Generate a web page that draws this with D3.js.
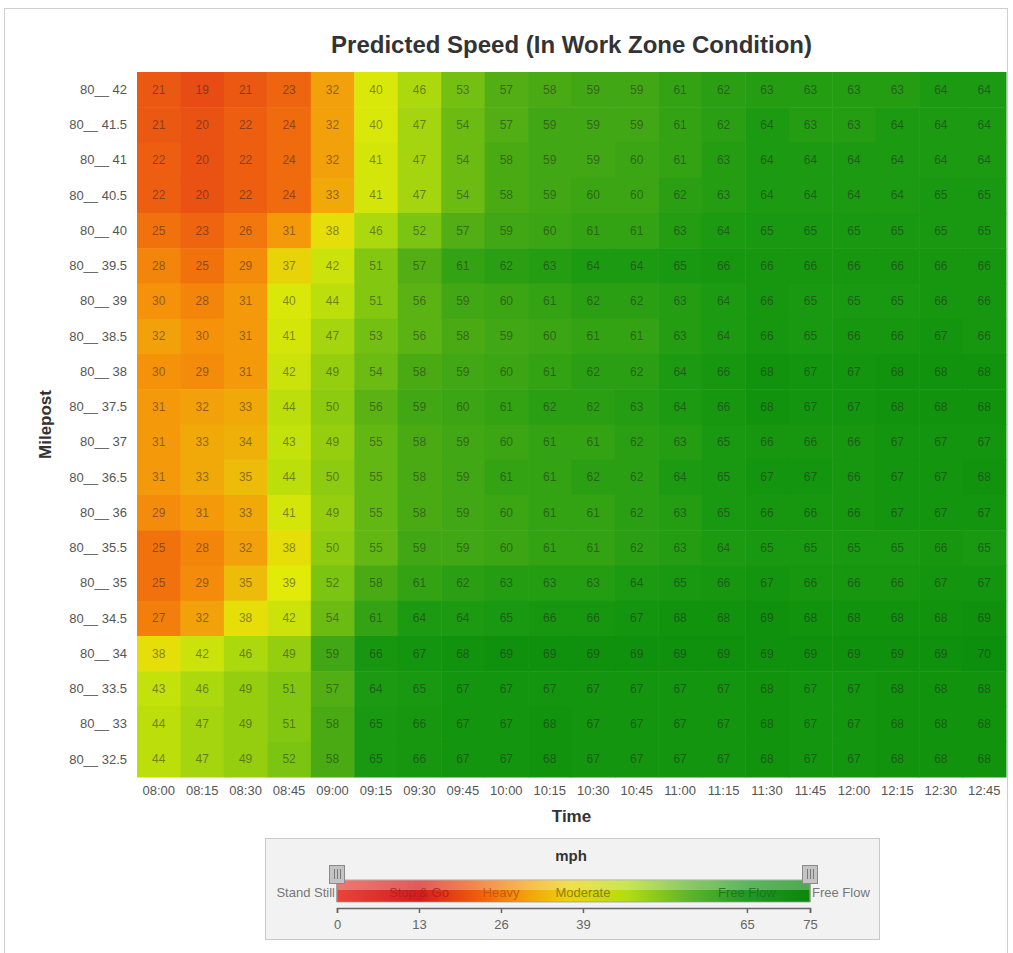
<!DOCTYPE html>
<html>
<head>
<meta charset="utf-8">
<script src="https://cdn.jsdelivr.net/npm/d3@7"></script>
<style>
  html, body { margin: 0; padding: 0; background: #fff; }
  svg { display: block; font-family: "Liberation Sans", Arial, sans-serif; }
</style>
</head>
<body>
<svg id="chart" width="1013" height="953"></svg>
<script>
const times = ["08:00","08:15","08:30","08:45","09:00","09:15","09:30","09:45","10:00","10:15",
               "10:30","10:45","11:00","11:15","11:30","11:45","12:00","12:15","12:30","12:45"];
const mileposts = ["80__ 42","80__ 41.5","80__ 41","80__ 40.5","80__ 40","80__ 39.5","80__ 39","80__ 38.5",
                   "80__ 38","80__ 37.5","80__ 37","80__ 36.5","80__ 36","80__ 35.5","80__ 35","80__ 34.5",
                   "80__ 34","80__ 33.5","80__ 33","80__ 32.5"];
const speeds = [
  [21,19,21,23,32,40,46,53,57,58,59,59,61,62,63,63,63,63,64,64],
  [21,20,22,24,32,40,47,54,57,59,59,59,61,62,64,63,63,64,64,64],
  [22,20,22,24,32,41,47,54,58,59,59,60,61,63,64,64,64,64,64,64],
  [22,20,22,24,33,41,47,54,58,59,60,60,62,63,64,64,64,64,65,65],
  [25,23,26,31,38,46,52,57,59,60,61,61,63,64,65,65,65,65,65,65],
  [28,25,29,37,42,51,57,61,62,63,64,64,65,66,66,66,66,66,66,66],
  [30,28,31,40,44,51,56,59,60,61,62,62,63,64,66,65,65,65,66,66],
  [32,30,31,41,47,53,56,58,59,60,61,61,63,64,66,65,66,66,67,66],
  [30,29,31,42,49,54,58,59,60,61,62,62,64,66,68,67,67,68,68,68],
  [31,32,33,44,50,56,59,60,61,62,62,63,64,66,68,67,67,68,68,68],
  [31,33,34,43,49,55,58,59,60,61,61,62,63,65,66,66,66,67,67,67],
  [31,33,35,44,50,55,58,59,61,61,62,62,64,65,67,67,66,67,67,68],
  [29,31,33,41,49,55,58,59,60,61,61,62,63,65,66,66,66,67,67,67],
  [25,28,32,38,50,55,59,59,60,61,61,62,63,64,65,65,65,65,66,65],
  [25,29,35,39,52,58,61,62,63,63,63,64,65,66,67,66,66,66,67,67],
  [27,32,38,42,54,61,64,64,65,66,66,67,68,68,69,68,68,68,68,69],
  [38,42,46,49,59,66,67,68,69,69,69,69,69,69,69,69,69,69,69,70],
  [43,46,49,51,57,64,65,67,67,67,67,67,67,67,68,67,67,68,68,68],
  [44,47,49,51,58,65,66,67,67,68,67,67,67,67,68,67,67,68,68,68],
  [44,47,49,52,58,65,66,67,67,68,67,67,67,67,68,67,67,68,68,68]
];
const legendTicks = [0,13,26,39,65,75];
const legendLabels = [
  {v: 13, text: "Stop & Go", color: "#b02020"},
  {v: 26, text: "Heavy", color: "#c0501a"},
  {v: 39, text: "Moderate", color: "#7a7018"},
  {v: 65, text: "Free Flow", color: "#1f6f1f"}
];

(function () {
const svg = d3.select("#chart");

svg.append("rect").attr("x", 4.5).attr("y", 8.5).attr("width", 1003).attr("height", 960)
  .attr("fill", "none").attr("stroke", "#cfcfcf");

const pLeft = 137, pRight = 1006, pTop = 72, pBottom = 777;
const x = d3.scaleBand().domain(times).range([pLeft, pRight]);
const y = d3.scaleBand().domain(mileposts).range([pTop, pBottom]);

const color = d3.scaleLinear()
  .domain([19, 24, 30, 34, 39, 45, 52, 58, 64, 70])
  .range(["#e84c14","#f06a0e","#f5920a","#f0b00a","#e2ea08","#b4dc0c","#7cc412","#4aaa14","#1c9a12","#0c8f0c"])
  .clamp(true);

const cells = [];
speeds.forEach((row, i) => row.forEach((v, j) => cells.push({r: mileposts[i], c: times[j], v})));

svg.append("g").selectAll("rect").data(cells).join("rect")
  .attr("x", d => x(d.c)).attr("y", d => y(d.r))
  .attr("width", x.bandwidth() + 0.5).attr("height", y.bandwidth() + 0.5)
  .attr("fill", d => color(d.v));

svg.append("g").selectAll("text").data(cells).join("text")
  .attr("x", d => x(d.c) + x.bandwidth() / 2)
  .attr("y", d => y(d.r) + y.bandwidth() / 2 + 4)
  .attr("text-anchor", "middle")
  .attr("font-size", 12)
  .attr("fill", "#222").attr("fill-opacity", 0.5)
  .text(d => d.v);

const yAxis = svg.append("g").attr("transform", `translate(${pLeft},0)`)
  .call(d3.axisLeft(y).tickSize(0).tickPadding(10));
yAxis.select(".domain").remove();
yAxis.selectAll("text").attr("font-size", 13).attr("fill", "#555")
  .attr("font-family", "'Liberation Sans', Arial, sans-serif");

const xAxis = svg.append("g").attr("transform", `translate(0,${pBottom})`)
  .call(d3.axisBottom(x).tickSize(0).tickPadding(9));
xAxis.select(".domain").remove();
xAxis.selectAll("text").attr("font-size", 13).attr("fill", "#555")
  .attr("font-family", "'Liberation Sans', Arial, sans-serif");

svg.append("text").attr("x", (pLeft + pRight) / 2).attr("y", 53)
  .attr("text-anchor", "middle").attr("font-size", 24).attr("font-weight", "bold").attr("fill", "#333")
  .text("Predicted Speed (In Work Zone Condition)");
svg.append("text").attr("x", (pLeft + pRight) / 2).attr("y", 822)
  .attr("text-anchor", "middle").attr("font-size", 17).attr("font-weight", "bold").attr("fill", "#333")
  .text("Time");
svg.append("text").attr("transform", `translate(51,${(pTop + pBottom) / 2}) rotate(-90)`)
  .attr("text-anchor", "middle").attr("font-size", 17).attr("font-weight", "bold").attr("fill", "#333")
  .text("Milepost");

const lg = svg.append("g");
lg.append("rect").attr("x", 265.5).attr("y", 838.5).attr("width", 614).attr("height", 101)
  .attr("fill", "#f2f2f2").attr("stroke", "#c8c8c8");
lg.append("text").attr("x", 571).attr("y", 861).attr("text-anchor", "middle")
  .attr("font-size", 15).attr("font-weight", "bold").attr("fill", "#333").text("mph");

const lx = d3.scaleLinear().domain([0, 75]).range([337, 810]);
const defs = svg.append("defs");
const grad = defs.append("linearGradient").attr("id", "lgGrad").attr("x1", "0%").attr("x2", "100%");
const stops = [[0,"#e8453a"],[13,"#d41c1c"],[22,"#f05a0a"],[30,"#f5a00a"],[37,"#ecd40a"],
               [46,"#b4dc12"],[56,"#5cb42a"],[65,"#1f9a22"],[75,"#0a880a"]];
stops.forEach(s => grad.append("stop").attr("offset", (s[0] / 75 * 100) + "%").attr("stop-color", s[1]));

lg.append("rect").attr("x", lx(0)).attr("y", 880).attr("width", lx(75) - lx(0)).attr("height", 22)
  .attr("fill", "url(#lgGrad)").attr("stroke", "#9a9a9a").attr("stroke-width", 0.8);
lg.append("rect").attr("x", lx(0)).attr("y", 880).attr("width", lx(75) - lx(0)).attr("height", 10)
  .attr("fill", "#fff").attr("fill-opacity", 0.28);

lg.selectAll("text.band").data(legendLabels).join("text").attr("class", "band")
  .attr("x", d => lx(d.v)).attr("y", 897).attr("text-anchor", "middle")
  .attr("font-size", 13).attr("fill", d => d.color).attr("fill-opacity", 0.85).text(d => d.text);

lg.append("text").attr("x", lx(0) - 2).attr("y", 897).attr("text-anchor", "end")
  .attr("font-size", 13).attr("fill", "#777").text("Stand Still");
lg.append("text").attr("x", lx(75) + 2).attr("y", 897).attr("text-anchor", "start")
  .attr("font-size", 13).attr("fill", "#777").text("Free Flow");

const la = lg.append("g").attr("transform", "translate(0,908)")
  .call(d3.axisBottom(lx).tickValues(legendTicks).tickSize(5).tickSizeOuter(5).tickPadding(7));
la.select(".domain").attr("stroke", "#666").attr("stroke-width", 1.5);
la.selectAll(".tick line").attr("stroke", "#666").attr("stroke-width", 1.5);
la.selectAll("text").attr("font-size", 13).attr("fill", "#666")
  .attr("font-family", "'Liberation Sans', Arial, sans-serif");

[0, 75].forEach(v => {
  const h = lg.append("g").attr("transform", `translate(${lx(v)},0)`);
  h.append("rect").attr("x", -7.5).attr("y", 865.5).attr("width", 15).attr("height", 18)
    .attr("fill", "#c4c4c4").attr("stroke", "#8a8a8a");
  [-3, 0, 3].forEach(dx => h.append("line").attr("x1", dx + 0.5).attr("x2", dx + 0.5)
    .attr("y1", 869).attr("y2", 879).attr("stroke", "#7a7a7a"));
  h.append("line").attr("x1", 0).attr("x2", 0).attr("y1", 884).attr("y2", 902)
    .attr("stroke", "#8a8a8a").attr("stroke-width", 1.2);
});
})();
</script>
</body>
</html>
